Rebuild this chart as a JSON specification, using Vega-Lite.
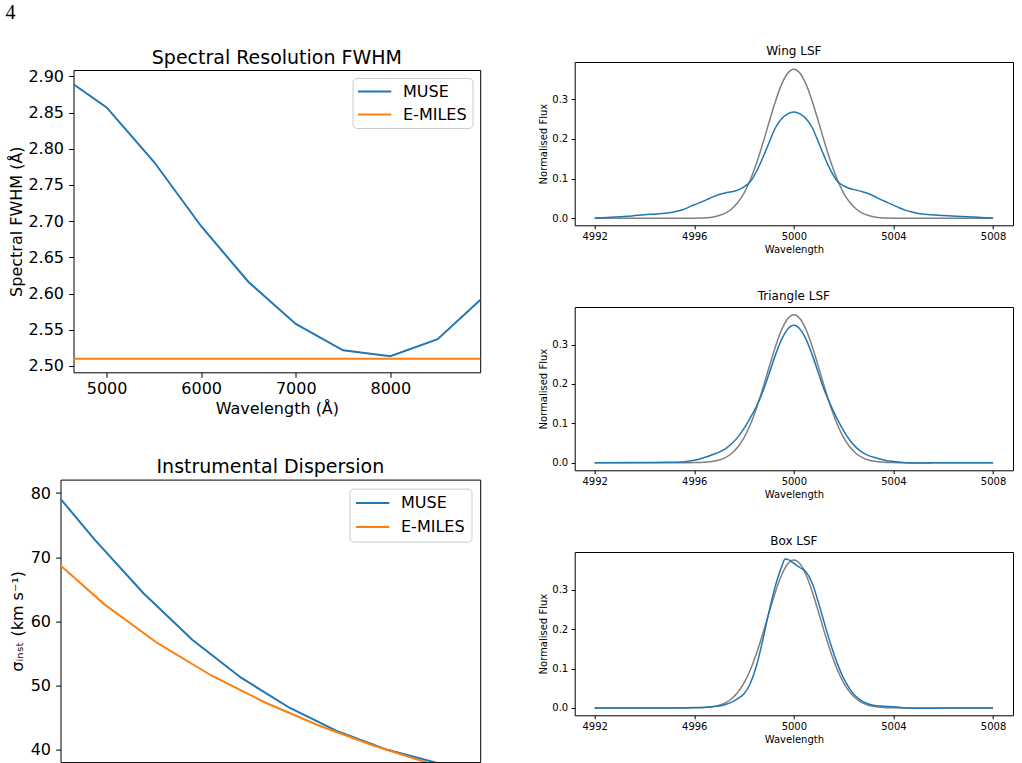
{
  "$schema": "https://vega.github.io/schema/vega-lite/v6.json",
  "background": "white",
  "padding": {"left": 4.5, "top": 3, "right": 0, "bottom": 0},
  "title": {"text": "4", "anchor": "start", "frame": "bounds", "font": "Liberation Serif", "fontSize": 20, "fontWeight": "normal", "color": "#000000", "dx": -3, "offset": 21.4, "baseline": "top"},
  "config": {
    "font": "DejaVu Sans",
    "view": {"stroke": "#000000", "strokeWidth": 1},
    "axis": {"grid": false, "domain": false, "tickColor": "#000000", "labelColor": "#000000", "titleColor": "#000000", "labelFont": "DejaVu Sans", "titleFont": "DejaVu Sans", "titleFontWeight": "normal"},
    "title": {"font": "DejaVu Sans", "fontWeight": "normal", "color": "#000000", "frame": "group", "anchor": "middle", "baseline": "alphabetic"}
  },
  "datasets": {
    "fwhm": [
      {"wavelength": 4650, "series": "MUSE", "value": 2.889},
      {"wavelength": 5000, "series": "MUSE", "value": 2.857},
      {"wavelength": 5500, "series": "MUSE", "value": 2.782},
      {"wavelength": 6000, "series": "MUSE", "value": 2.693},
      {"wavelength": 6500, "series": "MUSE", "value": 2.616},
      {"wavelength": 7000, "series": "MUSE", "value": 2.558},
      {"wavelength": 7500, "series": "MUSE", "value": 2.5217},
      {"wavelength": 8000, "series": "MUSE", "value": 2.5134},
      {"wavelength": 8500, "series": "MUSE", "value": 2.537},
      {"wavelength": 8950, "series": "MUSE", "value": 2.591},
      {"wavelength": 4650, "series": "E-MILES", "value": 2.51},
      {"wavelength": 8950, "series": "E-MILES", "value": 2.51}
    ],
    "sigma": [
      {"wavelength": 4650, "series": "MUSE", "value": 79.10},
      {"wavelength": 5000, "series": "MUSE", "value": 72.75},
      {"wavelength": 5500, "series": "MUSE", "value": 64.40},
      {"wavelength": 6000, "series": "MUSE", "value": 57.14},
      {"wavelength": 6500, "series": "MUSE", "value": 51.24},
      {"wavelength": 7000, "series": "MUSE", "value": 46.52},
      {"wavelength": 7500, "series": "MUSE", "value": 42.81},
      {"wavelength": 8000, "series": "MUSE", "value": 40.00},
      {"wavelength": 8500, "series": "MUSE", "value": 38.00},
      {"wavelength": 8950, "series": "MUSE", "value": 36.86},
      {"wavelength": 4650, "series": "E-MILES", "value": 68.72},
      {"wavelength": 5100, "series": "E-MILES", "value": 62.66},
      {"wavelength": 5645, "series": "E-MILES", "value": 56.61},
      {"wavelength": 6195, "series": "E-MILES", "value": 51.58},
      {"wavelength": 6740, "series": "E-MILES", "value": 47.41},
      {"wavelength": 7290, "series": "E-MILES", "value": 43.83},
      {"wavelength": 7840, "series": "E-MILES", "value": 40.76},
      {"wavelength": 8385, "series": "E-MILES", "value": 38.11},
      {"wavelength": 8935, "series": "E-MILES", "value": 35.76},
      {"wavelength": 8950, "series": "E-MILES", "value": 35.70}
    ],
    "gauss": [
      {"lam": 4992, "flux": 0}, {"lam": 4995, "flux": 0}, {"lam": 4995.5, "flux": 0.0001},
      {"lam": 4996, "flux": 0.0003}, {"lam": 4996.25, "flux": 0.0007}, {"lam": 4996.5, "flux": 0.0016},
      {"lam": 4996.75, "flux": 0.0035}, {"lam": 4997, "flux": 0.0069}, {"lam": 4997.25, "flux": 0.0131},
      {"lam": 4997.5, "flux": 0.0235}, {"lam": 4997.75, "flux": 0.0398}, {"lam": 4998, "flux": 0.0637},
      {"lam": 4998.25, "flux": 0.0966}, {"lam": 4998.5, "flux": 0.1385}, {"lam": 4998.75, "flux": 0.1879},
      {"lam": 4999, "flux": 0.2412}, {"lam": 4999.25, "flux": 0.2928}, {"lam": 4999.5, "flux": 0.3363},
      {"lam": 4999.75, "flux": 0.3655}, {"lam": 5000, "flux": 0.3758}, {"lam": 5000.25, "flux": 0.3655},
      {"lam": 5000.5, "flux": 0.3363}, {"lam": 5000.75, "flux": 0.2928}, {"lam": 5001, "flux": 0.2412},
      {"lam": 5001.25, "flux": 0.1879}, {"lam": 5001.5, "flux": 0.1385}, {"lam": 5001.75, "flux": 0.0966},
      {"lam": 5002, "flux": 0.0637}, {"lam": 5002.25, "flux": 0.0398}, {"lam": 5002.5, "flux": 0.0235},
      {"lam": 5002.75, "flux": 0.0131}, {"lam": 5003, "flux": 0.0069}, {"lam": 5003.25, "flux": 0.0035},
      {"lam": 5003.5, "flux": 0.0016}, {"lam": 5003.75, "flux": 0.0007}, {"lam": 5004, "flux": 0.0003},
      {"lam": 5004.5, "flux": 0.0001}, {"lam": 5005, "flux": 0}, {"lam": 5008, "flux": 0}
    ],
    "wing": [
      {"lam": 4992, "flux": 0.001}, {"lam": 4992.5, "flux": 0.002}, {"lam": 4993, "flux": 0.004},
      {"lam": 4993.5, "flux": 0.006}, {"lam": 4994, "flux": 0.009}, {"lam": 4994.5, "flux": 0.011},
      {"lam": 4995, "flux": 0.014}, {"lam": 4995.25, "flux": 0.017}, {"lam": 4995.5, "flux": 0.021},
      {"lam": 4995.75, "flux": 0.027}, {"lam": 4996, "flux": 0.034}, {"lam": 4996.25, "flux": 0.040},
      {"lam": 4996.5, "flux": 0.047}, {"lam": 4996.75, "flux": 0.054}, {"lam": 4997, "flux": 0.060},
      {"lam": 4997.25, "flux": 0.064}, {"lam": 4997.5, "flux": 0.067}, {"lam": 4997.75, "flux": 0.071},
      {"lam": 4998, "flux": 0.079}, {"lam": 4998.25, "flux": 0.092}, {"lam": 4998.5, "flux": 0.118},
      {"lam": 4998.75, "flux": 0.152}, {"lam": 4999, "flux": 0.190}, {"lam": 4999.25, "flux": 0.227},
      {"lam": 4999.5, "flux": 0.250}, {"lam": 4999.75, "flux": 0.263}, {"lam": 5000, "flux": 0.268},
      {"lam": 5000.25, "flux": 0.263}, {"lam": 5000.5, "flux": 0.250}, {"lam": 5000.75, "flux": 0.227},
      {"lam": 5001, "flux": 0.190}, {"lam": 5001.25, "flux": 0.152}, {"lam": 5001.5, "flux": 0.118},
      {"lam": 5001.75, "flux": 0.093}, {"lam": 5002, "flux": 0.082}, {"lam": 5002.25, "flux": 0.075},
      {"lam": 5002.5, "flux": 0.071}, {"lam": 5002.75, "flux": 0.067}, {"lam": 5003, "flux": 0.062},
      {"lam": 5003.25, "flux": 0.055}, {"lam": 5003.5, "flux": 0.047}, {"lam": 5003.75, "flux": 0.040},
      {"lam": 5004, "flux": 0.033}, {"lam": 5004.25, "flux": 0.026}, {"lam": 5004.5, "flux": 0.020},
      {"lam": 5004.75, "flux": 0.016}, {"lam": 5005, "flux": 0.012}, {"lam": 5005.5, "flux": 0.009},
      {"lam": 5006, "flux": 0.007}, {"lam": 5006.5, "flux": 0.005}, {"lam": 5007, "flux": 0.004},
      {"lam": 5007.5, "flux": 0.002}, {"lam": 5008, "flux": 0.001}
    ],
    "triangle": [
      {"lam": 4992, "flux": 0}, {"lam": 4994, "flux": 0.0005}, {"lam": 4995, "flux": 0.001},
      {"lam": 4995.5, "flux": 0.002}, {"lam": 4996, "flux": 0.006}, {"lam": 4996.25, "flux": 0.010},
      {"lam": 4996.5, "flux": 0.015}, {"lam": 4996.75, "flux": 0.021}, {"lam": 4997, "flux": 0.027},
      {"lam": 4997.25, "flux": 0.035}, {"lam": 4997.5, "flux": 0.048}, {"lam": 4997.75, "flux": 0.065},
      {"lam": 4998, "flux": 0.087}, {"lam": 4998.25, "flux": 0.114}, {"lam": 4998.5, "flux": 0.143},
      {"lam": 4998.75, "flux": 0.180}, {"lam": 4999, "flux": 0.225}, {"lam": 4999.25, "flux": 0.272},
      {"lam": 4999.5, "flux": 0.312}, {"lam": 4999.75, "flux": 0.339}, {"lam": 5000, "flux": 0.349},
      {"lam": 5000.25, "flux": 0.339}, {"lam": 5000.5, "flux": 0.312}, {"lam": 5000.75, "flux": 0.272},
      {"lam": 5001, "flux": 0.225}, {"lam": 5001.25, "flux": 0.180}, {"lam": 5001.5, "flux": 0.143},
      {"lam": 5001.75, "flux": 0.110}, {"lam": 5002, "flux": 0.081}, {"lam": 5002.25, "flux": 0.057},
      {"lam": 5002.5, "flux": 0.039}, {"lam": 5002.75, "flux": 0.026}, {"lam": 5003, "flux": 0.018},
      {"lam": 5003.25, "flux": 0.013}, {"lam": 5003.5, "flux": 0.009}, {"lam": 5003.75, "flux": 0.005},
      {"lam": 5004, "flux": 0.003}, {"lam": 5004.5, "flux": 0.0}, {"lam": 5005, "flux": -0.001},
      {"lam": 5005.5, "flux": -0.0005}, {"lam": 5006, "flux": 0}, {"lam": 5008, "flux": 0}
    ],
    "box": [
      {"lam": 4992, "flux": 0}, {"lam": 4995, "flux": 0}, {"lam": 4996, "flux": 0.001},
      {"lam": 4996.5, "flux": 0.002}, {"lam": 4997, "flux": 0.005}, {"lam": 4997.25, "flux": 0.009},
      {"lam": 4997.5, "flux": 0.015}, {"lam": 4997.75, "flux": 0.024}, {"lam": 4998, "flux": 0.036},
      {"lam": 4998.25, "flux": 0.062}, {"lam": 4998.5, "flux": 0.107}, {"lam": 4998.75, "flux": 0.172},
      {"lam": 4999, "flux": 0.244}, {"lam": 4999.25, "flux": 0.308}, {"lam": 4999.5, "flux": 0.357},
      {"lam": 4999.65, "flux": 0.378}, {"lam": 4999.8, "flux": 0.376}, {"lam": 5000, "flux": 0.367},
      {"lam": 5000.25, "flux": 0.356}, {"lam": 5000.5, "flux": 0.345}, {"lam": 5000.75, "flux": 0.315},
      {"lam": 5001, "flux": 0.265}, {"lam": 5001.25, "flux": 0.210}, {"lam": 5001.5, "flux": 0.158},
      {"lam": 5001.75, "flux": 0.112}, {"lam": 5002, "flux": 0.075}, {"lam": 5002.25, "flux": 0.048},
      {"lam": 5002.5, "flux": 0.029}, {"lam": 5002.75, "flux": 0.017}, {"lam": 5003, "flux": 0.010},
      {"lam": 5003.25, "flux": 0.006}, {"lam": 5003.5, "flux": 0.005}, {"lam": 5003.75, "flux": 0.004},
      {"lam": 5004, "flux": 0.003}, {"lam": 5004.5, "flux": 0.0}, {"lam": 5005, "flux": -0.001},
      {"lam": 5005.5, "flux": -0.001}, {"lam": 5006, "flux": 0}, {"lam": 5008, "flux": 0}
    ]
  },
  "spacing": 52.2,
  "resolve": {"scale": {"color": "independent"}, "legend": {"color": "independent"}},
  "hconcat": [
    {
      "spacing": 39.6,
      "resolve": {"scale": {"color": "independent"}, "legend": {"color": "independent"}},
      "vconcat": [
        {
          "concat": [
            {"width": 13, "height": 8, "data": {"values": [{}]}, "mark": {"type": "point", "opacity": 0}, "encoding": {}, "view": {"stroke": null}},
            {"width": 1, "height": 1, "data": {"values": [{}]}, "mark": {"type": "point", "opacity": 0}, "encoding": {}, "view": {"stroke": null}},
            {"width": 1, "height": 1, "data": {"values": [{}]}, "mark": {"type": "point", "opacity": 0}, "encoding": {}, "view": {"stroke": null}},
            {
              "width": 406.7,
              "height": 302.3,
              "title": {"text": "Spectral Resolution FWHM", "fontSize": 19, "offset": 0.7},
              "data": {"name": "fwhm"},
              "encoding": {
                "x": {"field": "wavelength", "type": "quantitative", "scale": {"domain": [4650, 8950], "nice": false, "zero": false},
                      "axis": {"title": "Wavelength (Å)", "values": [5000, 6000, 7000, 8000], "format": "d", "labelFontSize": 16, "titleFontSize": 16, "tickSize": 5, "labelPadding": 3, "titlePadding": 4}},
                "y": {"field": "value", "type": "quantitative", "scale": {"domain": [2.4913, 2.9087], "nice": false, "zero": false},
                      "axis": {"title": "Spectral FWHM (Å)", "values": [2.5, 2.55, 2.6, 2.65, 2.7, 2.75, 2.8, 2.85, 2.9], "format": ".2f", "labelFontSize": 16, "titleFontSize": 16, "tickSize": 5, "labelPadding": 5, "titlePadding": 3}},
                "color": {"field": "series", "type": "nominal", "scale": {"domain": ["MUSE", "E-MILES"], "range": ["#1f77b4", "#ff7f0e"]},
                          "legend": {"title": null, "orient": "top-right", "offset": 8, "symbolType": "M-1.44,0H4.56", "symbolSize": 123, "symbolOffset": 0, "symbolStrokeWidth": 2, "labelFontSize": 16, "labelFont": "DejaVu Sans", "labelColor": "#000000", "labelOffset": 29, "padding": 5.5, "rowPadding": 7, "fillColor": "rgba(255,255,255,0.8)", "strokeColor": "#cccccc", "cornerRadius": 4}}
              },
              "layer": [
                {"transform": [{"filter": "datum.series === 'MUSE'"}], "mark": {"type": "line", "strokeWidth": 2}},
                {"transform": [{"filter": "datum.series === 'E-MILES'"}], "mark": {"type": "line", "strokeWidth": 2}}
              ]
            }
          ],
          "columns": 2,
          "align": "each",
          "bounds": "flush",
          "spacing": 0,
          "resolve": {"scale": {"color": "independent"}, "legend": {"color": "independent"}}
        },
        {
          "width": 419.7,
          "height": 282.5,
          "title": {"text": "Instrumental Dispersion", "fontSize": 19, "offset": 3},
          "data": {"name": "sigma"},
          "encoding": {
            "x": {"field": "wavelength", "type": "quantitative", "scale": {"domain": [4650, 8950], "nice": false, "zero": false}, "axis": null},
            "y": {"field": "value", "type": "quantitative", "scale": {"domain": [38.09, 82.09], "nice": false, "zero": false},
                  "axis": {"title": "σᵢₙₛₜ (km s⁻¹)", "values": [40, 50, 60, 70, 80], "format": "d", "labelFontSize": 16, "titleFontSize": 16, "tickSize": 5, "labelPadding": 5, "titlePadding": 5}},
            "color": {"field": "series", "type": "nominal", "scale": {"domain": ["MUSE", "E-MILES"], "range": ["#1f77b4", "#ff7f0e"]},
                      "legend": {"title": null, "orient": "top-right", "offset": 9, "symbolType": "M-1.44,0H4.56", "symbolSize": 123, "symbolOffset": 0, "symbolStrokeWidth": 2, "labelFontSize": 16, "labelFont": "DejaVu Sans", "labelColor": "#000000", "labelOffset": 29, "padding": 6.5, "rowPadding": 8, "fillColor": "rgba(255,255,255,0.8)", "strokeColor": "#cccccc", "cornerRadius": 4}}
          },
          "layer": [
            {"transform": [{"filter": "datum.series === 'MUSE'"}], "mark": {"type": "line", "strokeWidth": 2, "clip": true}},
            {"transform": [{"filter": "datum.series === 'E-MILES'"}], "mark": {"type": "line", "strokeWidth": 2, "clip": true}}
          ]
        }
      ]
    },
    {
      "spacing": 81,
      "bounds": "flush",
      "vconcat": [
        {
          "width": 438.3,
          "height": 163.3,
          "title": {"text": "Wing LSF", "fontSize": 12, "offset": 4},
          "encoding": {
            "x": {"field": "lam", "type": "quantitative", "scale": {"domain": [4991.2, 5008.8], "nice": false, "zero": false},
                  "axis": {"title": "Wavelength", "values": [4992, 4996, 5000, 5004, 5008], "format": "d", "labelFontSize": 10, "titleFontSize": 10, "tickSize": 3.5, "labelPadding": 3, "titlePadding": 3}},
            "y": {"field": "flux", "type": "quantitative", "scale": {"domain": [-0.0177, 0.394], "nice": false, "zero": false},
                  "axis": {"title": "Normalised Flux", "values": [0, 0.1, 0.2, 0.3], "format": ".1f", "labelFontSize": 10, "titleFontSize": 10, "tickSize": 3.5, "labelPadding": 3.5, "titlePadding": 3}}
          },
          "layer": [
            {"data": {"name": "gauss"}, "mark": {"type": "line", "color": "#808080", "strokeWidth": 1.5, "interpolate": "monotone"}},
            {"data": {"name": "wing"}, "mark": {"type": "line", "color": "#1f77b4", "strokeWidth": 1.5, "interpolate": "monotone"}}
          ]
        },
        {
          "width": 438.3,
          "height": 163.3,
          "title": {"text": "Triangle LSF", "fontSize": 12, "offset": 4},
          "encoding": {
            "x": {"field": "lam", "type": "quantitative", "scale": {"domain": [4991.2, 5008.8], "nice": false, "zero": false},
                  "axis": {"title": "Wavelength", "values": [4992, 4996, 5000, 5004, 5008], "format": "d", "labelFontSize": 10, "titleFontSize": 10, "tickSize": 3.5, "labelPadding": 3, "titlePadding": 3}},
            "y": {"field": "flux", "type": "quantitative", "scale": {"domain": [-0.0193, 0.3955], "nice": false, "zero": false},
                  "axis": {"title": "Normalised Flux", "values": [0, 0.1, 0.2, 0.3], "format": ".1f", "labelFontSize": 10, "titleFontSize": 10, "tickSize": 3.5, "labelPadding": 3.5, "titlePadding": 3}}
          },
          "layer": [
            {"data": {"name": "gauss"}, "mark": {"type": "line", "color": "#808080", "strokeWidth": 1.5, "interpolate": "monotone"}},
            {"data": {"name": "triangle"}, "mark": {"type": "line", "color": "#1f77b4", "strokeWidth": 1.5, "interpolate": "monotone"}}
          ]
        },
        {
          "width": 438.3,
          "height": 163.3,
          "title": {"text": "Box LSF", "fontSize": 12, "offset": 4},
          "encoding": {
            "x": {"field": "lam", "type": "quantitative", "scale": {"domain": [4991.2, 5008.8], "nice": false, "zero": false},
                  "axis": {"title": "Wavelength", "values": [4992, 4996, 5000, 5004, 5008], "format": "d", "labelFontSize": 10, "titleFontSize": 10, "tickSize": 3.5, "labelPadding": 3, "titlePadding": 3}},
            "y": {"field": "flux", "type": "quantitative", "scale": {"domain": [-0.0186, 0.396], "nice": false, "zero": false},
                  "axis": {"title": "Normalised Flux", "values": [0, 0.1, 0.2, 0.3], "format": ".1f", "labelFontSize": 10, "titleFontSize": 10, "tickSize": 3.5, "labelPadding": 3.5, "titlePadding": 3}}
          },
          "layer": [
            {"data": {"name": "gauss"}, "mark": {"type": "line", "color": "#808080", "strokeWidth": 1.5, "interpolate": "monotone"}},
            {"data": {"name": "box"}, "mark": {"type": "line", "color": "#1f77b4", "strokeWidth": 1.5, "interpolate": "monotone"}}
          ]
        }
      ]
    }
  ]
}
